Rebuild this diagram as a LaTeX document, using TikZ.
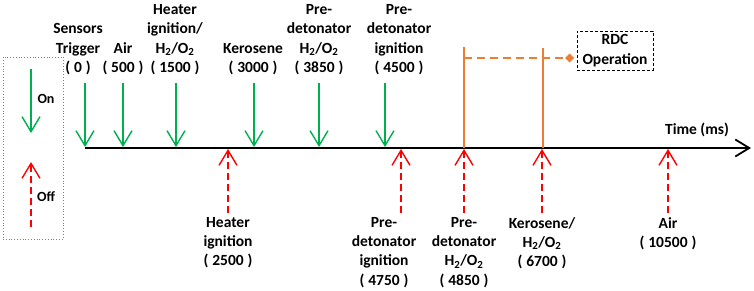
\documentclass[tikz,border=0pt]{standalone}
\usepackage{fontspec}
\setmainfont{Carlito}
\usetikzlibrary{arrows.meta,positioning}
\definecolor{tlGreen}{HTML}{00B050}
\definecolor{tlRed}{HTML}{FF0000}
\definecolor{tlOrange}{HTML}{ED7D31}
\definecolor{tlGray}{HTML}{7F7F7F}
\newcommand{\fpar}[1]{(\kern0.25em#1\kern0.25em)}
\newcommand{\hho}{H\textsubscript{2}/O\textsubscript{2}}
\tikzset{
  lbl/.style={font=\bfseries\fontsize{15.5}{19.3}\selectfont, align=center, inner sep=0pt},
  onarr/.style={-{Straight Barb[length=15pt,width=18pt]}, line width=1.4pt, draw=tlGreen},
  offarr/.style={-{Straight Barb[length=15pt,width=18pt]}, line width=1.4pt, draw=tlRed, dash pattern=on 7pt off 4pt},
  axarr/.style={-{Straight Barb[length=14pt,width=17pt]}, line width=1.8pt, draw=black},
  orgln/.style={line width=1.4pt, draw=tlOrange},
  orgdash/.style={-{Diamond[length=9pt,width=9pt]}, line width=1.4pt, draw=tlOrange, dash pattern=on 8pt off 5pt},
  rdcbox/.style={lbl, draw=black, dash pattern=on 3pt off 2pt, line width=0.9pt, minimum width=76pt, minimum height=39pt},
  legbox/.style={draw=tlGray, dotted, line width=0.8pt, minimum width=60pt, minimum height=182pt},
}
\begin{document}
\begin{tikzpicture}[x=1pt,y=-1pt]
  \useasboundingbox (0,0) rectangle (754,290);
  % time axis
  \coordinate (axL) at (85,148);
  \coordinate (axR) at (751,148);
  \draw[axarr] (axL) -- (axR);
  \node[lbl] (time) at (697,130) {Time (ms)};
  % switched on, above the axis
  \foreach \i/\x/\lx/\ttl in {0/85/78/{Sensors\\Trigger\\\fpar{0}}, 1/123/123/{Air\\\fpar{500}}, 2/176/175/{Heater\\ignition/\\\hho\\\fpar{1500}}, 3/254/253/{Kerosene\\\fpar{3000}}, 4/319/319/{Pre-\\detonator\\\hho\\\fpar{3850}}, 5/385/399/{Pre-\\detonator\\ignition\\\fpar{4500}}} {
    \coordinate (on\i) at (\x,83);
    \coordinate (onax\i) at (\x,147);
    \draw[onarr] (on\i) -- (onax\i);
    \node[lbl, anchor=south] (ont\i) at (\lx,75) {\ttl};
  }
  % switched off, below the axis
  \foreach \i/\x/\lx/\ttl in {0/228/228/{Heater\\ignition\\\fpar{2500}}, 1/401/384/{Pre-\\detonator\\ignition\\\fpar{4750}}, 2/464/464/{Pre-\\detonator\\\hho\\\fpar{4850}}, 3/542/542/{Kerosene/\\\hho\\\fpar{6700}}, 4/668/668/{Air\\\fpar{10500}}} {
    \coordinate (off\i) at (\x,213);
    \coordinate (offax\i) at (\x,149);
    \draw[offarr] (off\i) -- (offax\i);
    \node[lbl, anchor=north] (offt\i) at (\lx,217) {\ttl};
  }
  % RDC operation
  \node[rdcbox] (rdc) at (615,50.5) {RDC\\Operation};
  \coordinate (rdcA) at (464,47);
  \coordinate (rdcB) at (543,48);
  \draw[orgln] (rdcA) -- (rdcA |- axL);
  \draw[orgln] (rdcB) -- (rdcB |- axL);
  \coordinate (dashS) at (464,58);
  \coordinate (dashE) at (574,58);
  \draw[orgdash] (dashS) -- (dashE);
  % legend
  \node[legbox] (legend) at (33,148) {};
  \coordinate (legOn) at (31,69);
  \coordinate (legOnE) at (31,133);
  \draw[onarr] (legOn) -- (legOnE);
  \node[lbl, font=\bfseries\fontsize{14}{17}\selectfont] (legOnT) at (46,99) {On};
  \coordinate (legOff) at (31,227);
  \coordinate (legOffE) at (31,162);
  \draw[offarr] (legOff) -- (legOffE);
  \node[lbl, font=\bfseries\fontsize{14}{17}\selectfont] (legOffT) at (46,197) {Off};
\end{tikzpicture}
\end{document}
